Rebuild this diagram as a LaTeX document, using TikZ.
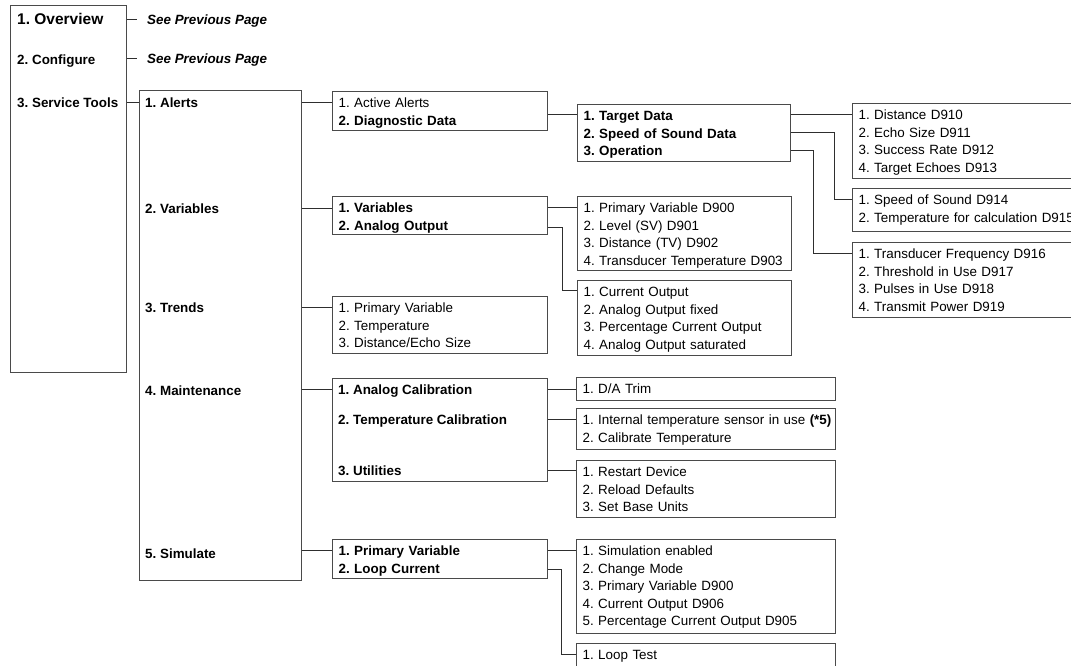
\documentclass[tikz,border=0pt]{standalone}
\usepackage{fontspec}
\setmainfont{Liberation Sans}
\usepackage{tikz}
\definecolor{BoxLine}{HTML}{4A4A4A}
\definecolor{Wire}{HTML}{2E2E2E}
\frenchspacing

\newcommand{\menufont}{\fontsize{13.4pt}{17.5pt}\selectfont}

\tikzset{
  menuframe/.style={draw=BoxLine, line width=1.2pt, anchor=north west, inner sep=0pt},
  listbox/.style={menuframe, font=\menufont, inner xsep=6pt, text width=#1, align=left, text height=16pt},
  menurow/.style={anchor=base west, inner sep=0pt, text height=10pt, text depth=0pt, font=\menufont\bfseries},
  wire/.style={draw=Wire, line width=1pt},
}

\begin{document}
\begin{tikzpicture}[x=1pt,y=-1pt]
\useasboundingbox (0,0) rectangle (1071,665);

\node[menuframe, minimum width=116pt, minimum height=367pt] (topmenu) at (10,5) {};
\node[menurow, font=\fontsize{15.5pt}{18pt}\selectfont\bfseries] (overview) at (17,24) {1. Overview};
\node[menurow] (configure) at (17,64) {2. Configure};
\node[menurow] (service) at (17,107) {3. Service Tools};
\node[menurow, font=\menufont\bfseries\itshape, inner xsep=10pt] (prevA) at (137,24) {See Previous Page};
\node[menurow, font=\menufont\bfseries\itshape, inner xsep=10pt] (prevB) at (137,63) {See Previous Page};

\node[menuframe, minimum width=162pt, minimum height=490pt] (svcmenu) at (139,90) {};
\node[menurow] (alertsrow) at (145,107) {1. Alerts};
\node[menurow] (varsrow) at (145,213) {2. Variables};
\node[menurow] (trendsrow) at (145,312) {3. Trends};
\node[menurow] (maintrow) at (145,395) {4. Maintenance};
\node[menurow] (simrow) at (145,558) {5. Simulate};

\node[listbox=203pt, text depth=23pt] (alerts) at (332,91) {1. Active Alerts\\\textbf{2. Diagnostic Data}};
\node[listbox=203pt, text depth=22pt] (variables) at (332,196) {\bfseries 1. Variables\\2. Analog Output};
\node[listbox=203pt, text depth=41pt] (trends) at (332,296) {1. Primary Variable\\2. Temperature\\3. Distance/Echo Size};
\node[menuframe, minimum width=215pt, minimum height=103pt] (maint) at (332,378) {};
\node[menurow] (anacal) at (338,394) {1. Analog Calibration};
\node[menurow] (tmpcal) at (338,424) {2. Temperature Calibration};
\node[menurow] (utilrow) at (338,475) {3. Utilities};
\node[listbox=203pt, text depth=23pt] (simulate) at (332,539) {\bfseries 1. Primary Variable\\2. Loop Current};

\node[listbox=201pt, text depth=41pt] (diag) at (577,104) {\bfseries 1. Target Data\\2. Speed of Sound Data\\3. Operation};
\node[listbox=202pt, text depth=58pt] (pv) at (577,196) {1. Primary Variable D900\\2. Level (SV) D901\\3. Distance (TV) D902\\4. Transducer Temperature D903};
\node[listbox=202pt, text depth=59pt] (curout) at (577,280) {1. Current Output\\2. Analog Output fixed\\3. Percentage Current Output\\4. Analog Output saturated};
\node[listbox=247pt, text depth=7pt] (datrim) at (576,377) {1. D/A Trim};
\node[listbox=247pt, text depth=25pt] (tempcal) at (576,408) {\mbox{1. Internal temperature sensor in use \textbf{(*5)}}\\2. Calibrate Temperature};
\node[listbox=247pt, text depth=41pt] (utils) at (576,460) {1. Restart Device\\2. Reload Defaults\\3. Set Base Units};
\node[listbox=247pt, text depth=78pt] (simset) at (576,539) {1. Simulation enabled\\2. Change Mode\\3. Primary Variable D900\\4. Current Output D906\\5. Percentage Current Output D905};
\node[listbox=247pt, text depth=40pt] (looptest) at (576,643) {1. Loop Test};

\node[listbox=228pt, text depth=59pt] (target) at (852,103) {1. Distance D910\\2. Echo Size D911\\3. Success Rate D912\\4. Target Echoes D913};
\node[listbox=228pt, text depth=27pt] (sos) at (852,188) {1. Speed of Sound D914\\2. Temperature for calculation D915};
\node[listbox=228pt, text depth=59pt] (oper) at (852,242) {1. Transducer Frequency D916\\2. Threshold in Use D917\\3. Pulses in Use D918\\4. Transmit Power D919};

\coordinate (diag-in) at ([yshift=-10pt]diag.north west);
\coordinate (pv-in) at ([yshift=-11pt]pv.north west);
\coordinate (curout-in) at ([yshift=-10pt]curout.north west);
\coordinate (simset-in) at ([yshift=-11pt]simset.north west);
\coordinate (looptest-in) at ([yshift=-11pt]looptest.north west);
\coordinate (target-in) at ([yshift=-11pt]target.north west);
\coordinate (sos-in) at ([yshift=-11pt]sos.north west);
\coordinate (oper-in) at ([yshift=-11pt]oper.north west);
\coordinate (diag-2) at ([yshift=-28pt]diag.north east);
\coordinate (diag-3) at ([yshift=-46pt]diag.north east);
\coordinate (variables-2) at ([yshift=-31pt]variables.north east);
\coordinate (simulate-2) at ([yshift=-30pt]simulate.north east);

\draw[wire] (topmenu.east |- prevA.west) -- (prevA.west);
\draw[wire] (topmenu.east |- prevB.west) -- (prevB.west);
\draw[wire] (topmenu.east |- service.east) -- (svcmenu.west |- service.east);

\draw[wire] (svcmenu.east |- alertsrow.east) -- (alerts.west |- alertsrow.east);
\draw[wire] (svcmenu.east |- varsrow.east) -- (variables.west |- varsrow.east);
\draw[wire] (svcmenu.east |- trendsrow.east) -- (trends.west |- trendsrow.east);
\draw[wire] (svcmenu.east |- anacal.west) -- (maint.west |- anacal.west);
\draw[wire] (svcmenu.east |- simset-in) -- (simulate.west |- simset-in);

\draw[wire] (alerts.east |- diag-in) -- (diag-in);
\draw[wire] (diag.east |- target-in) -- (target-in);
\draw[wire] (diag-2) -| ([xshift=-18pt]sos-in) -- (sos-in);
\draw[wire] (diag-3) -| ([xshift=-39pt]oper-in) -- (oper-in);
\draw[wire] (variables.east |- pv-in) -- (pv-in);
\draw[wire] (variables-2) -| ([xshift=-15pt]curout-in) -- (curout-in);
\draw[wire] (maint.east |- anacal.east) -- (datrim.west |- anacal.east);
\draw[wire] (maint.east |- tmpcal.east) -- (tempcal.west |- tmpcal.east);
\draw[wire] (maint.east |- utilrow.east) -- (utils.west |- utilrow.east);
\draw[wire] (simulate.east |- simset-in) -- (simset-in);
\draw[wire] (simulate-2) -| ([xshift=-15pt]looptest-in) -- (looptest-in);
\end{tikzpicture}
\end{document}
